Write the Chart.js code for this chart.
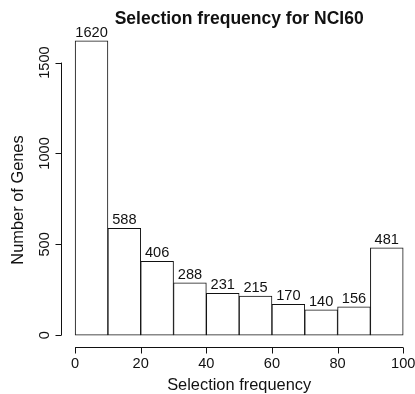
<!DOCTYPE html>
<html>
<head>
<meta charset="utf-8">
<script src="https://cdn.jsdelivr.net/npm/chart.js@4.4.0/dist/chart.umd.min.js"></script>
<style>
  html, body { margin: 0; padding: 0; background: #fff; }
  #wrap { width: 415px; height: 394px; position: relative; }
</style>
</head>
<body>
<div id="wrap"><canvas id="c" width="415" height="394"></canvas></div>
<script>
// ---- data ----
const binEdges = [0, 10, 20, 30, 40, 50, 60, 70, 80, 90, 100];
const counts = [1620, 588, 406, 288, 231, 215, 170, 140, 156, 481];
const xTicks = [0, 20, 40, 60, 80, 100];
const yTicks = [0, 500, 1000, 1500];
const titleText = 'Selection frequency for NCI60';
const xLabel = 'Selection frequency';
const yLabel = 'Number of Genes';

const points = counts.map((c, i) => ({ x: (binEdges[i] + binEdges[i + 1]) / 2, y: c }));

const FONT = '"Liberation Sans", Arial, Helvetica, sans-serif';
const INK = '#111';

const rAxes = {
  id: 'rAxes',
  afterDatasetsDraw(chart) {
    const ctx = chart.ctx;
    const xs = chart.scales.x, ys = chart.scales.y;
    const meta = chart.getDatasetMeta(0);
    ctx.save();
    // bar labels
    ctx.fillStyle = INK;
    ctx.font = '14.6px ' + FONT;
    ctx.textAlign = 'center';
    ctx.textBaseline = 'alphabetic';
    meta.data.forEach((bar, i) => {
      ctx.fillText(String(counts[i]), bar.x, bar.y - 4);
    });

    ctx.strokeStyle = INK;
    ctx.lineWidth = 1;
    // x axis
    const xAxisY = Math.round(ys.bottom) + 0.5;
    const x0 = xs.getPixelForValue(xTicks[0]);
    const x1 = xs.getPixelForValue(xTicks[xTicks.length - 1]);
    ctx.beginPath();
    ctx.moveTo(x0, xAxisY); ctx.lineTo(x1, xAxisY);
    xTicks.forEach(t => {
      const px = Math.round(xs.getPixelForValue(t)) + 0.5;
      ctx.moveTo(px, xAxisY); ctx.lineTo(px, xAxisY + 6);
    });
    ctx.stroke();
    ctx.textAlign = 'center';
    xTicks.forEach(t => {
      ctx.fillText(String(t), xs.getPixelForValue(t), 368);
    });

    // y axis
    const yAxisX = Math.round(xs.left) - 0.5;
    const yb = ys.getPixelForValue(yTicks[0]);
    const yt = ys.getPixelForValue(yTicks[yTicks.length - 1]);
    ctx.beginPath();
    ctx.moveTo(yAxisX, yb); ctx.lineTo(yAxisX, yt);
    yTicks.forEach(t => {
      const py = Math.round(ys.getPixelForValue(t)) + 0.5;
      ctx.moveTo(yAxisX, py); ctx.lineTo(yAxisX - 6, py);
    });
    ctx.stroke();
    yTicks.forEach(t => {
      ctx.save();
      ctx.translate(49, ys.getPixelForValue(t));
      ctx.rotate(-Math.PI / 2);
      ctx.textAlign = 'center';
      ctx.fillText(String(t), 0, 0);
      ctx.restore();
    });

    // axis titles
    const cx = (xs.left + xs.getPixelForValue(104)) / 2;
    ctx.font = '16.4px ' + FONT;
    ctx.textAlign = 'center';
    ctx.fillText(xLabel, cx, 390);
    ctx.save();
    ctx.translate(23, 200);
    ctx.rotate(-Math.PI / 2);
    ctx.fillText(yLabel, 0, 0);
    ctx.restore();

    // main title
    ctx.font = 'bold 17.5px ' + FONT;
    ctx.fillText(titleText, cx, 24);
    ctx.restore();
  }
};

new Chart(document.getElementById('c'), {
  type: 'bar',
  data: {
    datasets: [{
      data: points,
      backgroundColor: '#ffffff',
      borderColor: INK,
      borderWidth: 1,
      borderSkipped: false,
      barPercentage: 1,
      categoryPercentage: 1
    }]
  },
  options: {
    responsive: false,
    animation: false,
    devicePixelRatio: 1,
    layout: { padding: { left: 62, right: 0, top: 29, bottom: 47 } },
    plugins: { legend: { display: false }, tooltip: { enabled: false }, title: { display: false } },
    scales: {
      x: { type: 'linear', min: -4, max: 103.6, display: false, offset: false },
      y: { type: 'linear', min: -64.8, max: 1684.8, display: false }
    }
  },
  plugins: [rAxes]
});
</script>
</body>
</html>
